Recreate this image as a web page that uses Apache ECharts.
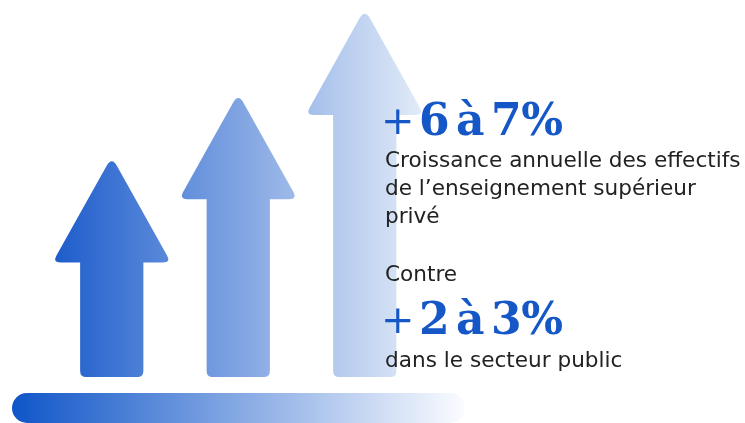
<!DOCTYPE html>
<html>
<head>
<meta charset="utf-8">
<script src="https://cdn.jsdelivr.net/npm/echarts@6/dist/echarts.min.js"></script>
<style>
  html, body { margin: 0; padding: 0; background: #fff; }
  #chart { width: 745px; height: 423px; }
</style>
</head>
<body>
<div id="chart"></div>
<script>
// trois flèches, hauteur relative (la plus haute = 100)
var arrowNames = ['1', '2', '3'];
var arrowHeights = [59.9, 77.1, 100];

// textes
var privateRate = ['+', '6', 'à', '7', '%'];
var publicRate = ['+', '2', 'à', '3', '%'];
var privateLines = ['Croissance annuelle des effectifs', 'de l\u2019enseignement supérieur', 'privé'];
var contreLabel = 'Contre';
var publicLabel = 'dans le secteur public';

var myChart = echarts.init(document.getElementById('chart'));

// polygone aux coins arrondis -> pathData
function roundedPath(pts, radii) {
    var n = pts.length;
    var s = '';
    var m0 = [(pts[0][0] + pts[n - 1][0]) / 2, (pts[0][1] + pts[n - 1][1]) / 2];
    s += 'M' + m0[0] + ' ' + m0[1];
    for (var i = 0; i < n; i++) {
        var p = pts[i], prev = pts[(i - 1 + n) % n], next = pts[(i + 1) % n];
        var r = radii[i];
        if (!r) { s += 'L' + p[0] + ' ' + p[1]; continue; }
        var d1 = Math.hypot(prev[0] - p[0], prev[1] - p[1]);
        var d2 = Math.hypot(next[0] - p[0], next[1] - p[1]);
        var a = [p[0] + (prev[0] - p[0]) / d1 * r, p[1] + (prev[1] - p[1]) / d1 * r];
        var b = [p[0] + (next[0] - p[0]) / d2 * r, p[1] + (next[1] - p[1]) / d2 * r];
        s += 'L' + a[0] + ' ' + a[1] + 'Q' + p[0] + ' ' + p[1] + ' ' + b[0] + ' ' + b[1];
    }
    return s + 'Z';
}

var arrowFill = new echarts.graphic.LinearGradient(50, 0, 430, 0, [
    { offset: 0, color: '#1b5bcb' },
    { offset: 1, color: '#e6eef9' }
], true);

function rateText(chars) {
    return chars.map(function (c, i) { return '{' + (i === 0 ? 'p' : 'c') + '|' + c + '}'; }).join('');
}
var rateRich = {
    p: { width: 37, align: 'center', fontFamily: 'DejaVu Serif', fontWeight: 'normal', fontSize: 40, fill: '#1557c6' },
    c: { width: 36, align: 'center', fontFamily: 'DejaVu Serif', fontWeight: 'bold', fontSize: 44, fill: '#1557c6' }
};
var bodyStyle = { fontFamily: 'DejaVu Sans', fontSize: 21.6, fill: '#222222', textVerticalAlign: 'middle' };

var texts = [];
texts.push({ type: 'text', left: 381, top: 102, z: 10,
    style: { text: rateText(privateRate), rich: rateRich } });
privateLines.forEach(function (line, i) {
    texts.push({ type: 'text', x: 385, y: 161 + i * 28, z: 10,
        style: Object.assign({ text: line }, bodyStyle) });
});
texts.push({ type: 'text', x: 385, y: 275, z: 10, style: Object.assign({ text: contreLabel }, bodyStyle) });
texts.push({ type: 'text', left: 381, top: 301, z: 10,
    style: { text: rateText(publicRate), rich: rateRich } });
texts.push({ type: 'text', x: 385, y: 361, z: 10, style: Object.assign({ text: publicLabel }, bodyStyle) });

// barre du bas
texts.push({
    type: 'rect', shape: { x: 12, y: 393, width: 453, height: 30, r: 15 }, z: 0,
    style: { fill: new echarts.graphic.LinearGradient(0, 0, 1, 0, [
        { offset: 0, color: '#0f55c8' },
        { offset: 1, color: '#fbfcff' }
    ]) }
});

myChart.setOption({
    backgroundColor: '#fff',
    animation: false,
    grid: { left: 48.5, right: 317, top: 9, bottom: 46 },
    xAxis: { type: 'category', data: arrowNames, show: false },
    yAxis: { type: 'value', min: 0, max: 100, show: false },
    graphic: texts,
    series: [{
        type: 'custom',
        data: arrowHeights.map(function (v, i) { return [i, v]; }),
        renderItem: function (params, api) {
            var top = api.coord([api.value(0), api.value(1)]);
            var base = api.coord([api.value(0), 0]);
            var band = api.size([1, 0])[0];
            var cx = top[0];
            var sw = band * 0.25;   // demi-largeur du fût
            var hw = band * 0.468;  // demi-largeur de la tête
            var hh = 106;           // hauteur de la tête
            var pts = [
                [cx, top[1]],
                [cx + hw, top[1] + hh],
                [cx + sw, top[1] + hh],
                [cx + sw, base[1]],
                [cx - sw, base[1]],
                [cx - sw, top[1] + hh],
                [cx - hw, top[1] + hh]
            ];
            return {
                type: 'path',
                shape: { pathData: roundedPath(pts, [11, 8, 0, 6, 6, 0, 8]) },
                style: { fill: arrowFill }
            };
        }
    }]
});
</script>
</body>
</html>
